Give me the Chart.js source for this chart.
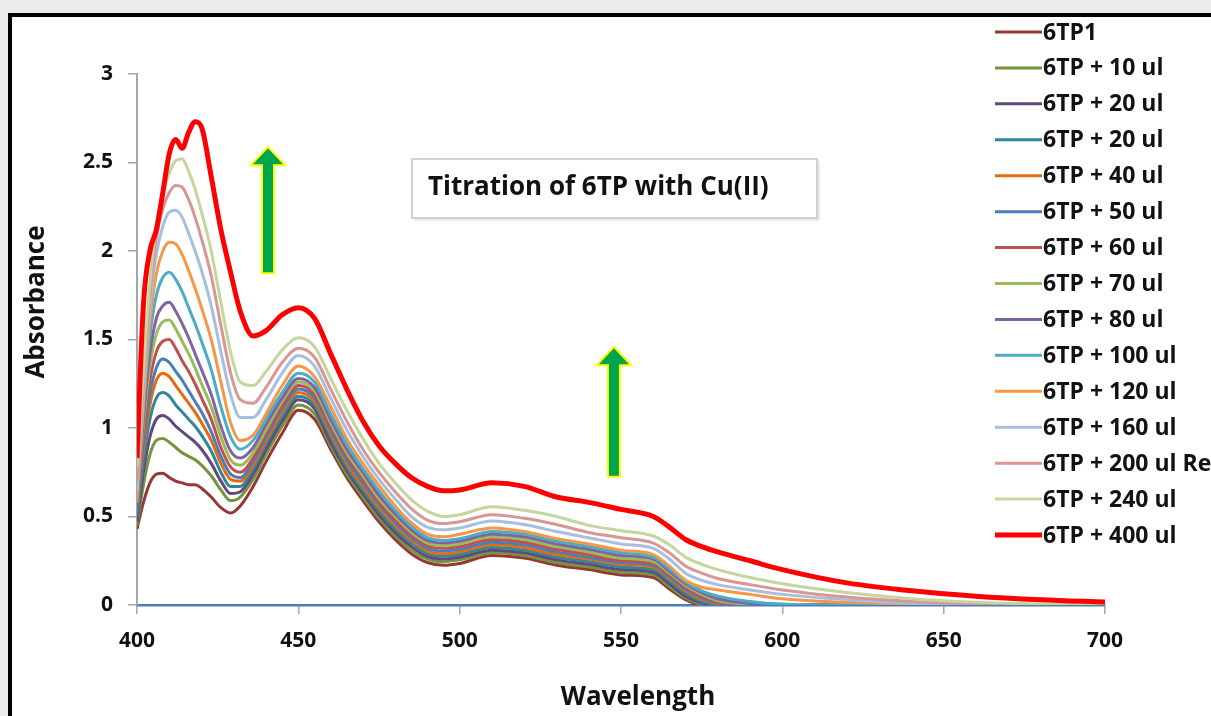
<!DOCTYPE html>
<html>
<head>
<meta charset="utf-8">
<script src="https://cdn.jsdelivr.net/npm/chart.js@4.4.1/dist/chart.umd.min.js"></script>
<style>
  html, body { margin: 0; padding: 0; background: #ececec; overflow: hidden; }
  #frame { position: absolute; left: 8px; top: 13px; width: 1260px; height: 780px; border: 4px solid #000; background: #fff; }
  #wrap { position: absolute; left: 0; top: 0; width: 1211px; height: 716px; }
</style>
</head>
<body>
<div id="frame"></div>
<div id="wrap"><canvas id="chart"></canvas></div>
<script>
// wavelength grid (nm) shared by every spectrum
const wavelengths = [400, 402, 404, 406, 408, 410, 412, 414, 416, 418,
  420, 423, 426, 429, 432, 436, 440, 445, 450, 455,
  460, 465, 470, 475, 480, 485, 490, 495, 500, 510,
  520, 530, 540, 550, 560, 565, 570, 575, 580, 590,
  600, 620, 640, 660, 680, 700];

const seriesLabels = ['6TP1', '6TP + 10 ul', '6TP + 20 ul', '6TP + 20 ul', '6TP + 40 ul',
  '6TP + 50 ul', '6TP + 60 ul', '6TP + 70 ul', '6TP + 80 ul', '6TP + 100 ul',
  '6TP + 120 ul', '6TP + 160 ul', '6TP + 200 ul Re', '6TP + 240 ul', '6TP + 400 ul'];

// absorbance values
const abs6TP1 = [0.43, 0.58, 0.69, 0.74, 0.745, 0.72, 0.70, 0.69, 0.68, 0.68,
  0.66, 0.61, 0.55, 0.52, 0.56, 0.67, 0.81, 0.97, 1.10, 1.05,
  0.88, 0.72, 0.59, 0.47, 0.37, 0.29, 0.24, 0.225, 0.235, 0.28,
  0.265, 0.225, 0.20, 0.17, 0.155, 0.09, 0.03, 0, 0, 0,
  0, 0, 0, 0, 0, 0];
const abs10 = [0.45, 0.68, 0.85, 0.93, 0.94, 0.92, 0.89, 0.86, 0.84, 0.82,
  0.79, 0.73, 0.65, 0.59, 0.61, 0.71, 0.85, 1.01, 1.13, 1.08,
  0.90, 0.74, 0.61, 0.49, 0.39, 0.31, 0.26, 0.245, 0.255, 0.295,
  0.28, 0.24, 0.215, 0.185, 0.17, 0.105, 0.04, 0.005, 0, 0,
  0, 0, 0, 0, 0, 0];
const abs20a = [0.47, 0.75, 0.95, 1.05, 1.07, 1.05, 1.01, 0.98, 0.95, 0.92,
  0.88, 0.80, 0.70, 0.63, 0.64, 0.74, 0.88, 1.04, 1.16, 1.11,
  0.92, 0.76, 0.63, 0.51, 0.41, 0.33, 0.275, 0.26, 0.27, 0.31,
  0.295, 0.255, 0.23, 0.20, 0.185, 0.12, 0.05, 0.012, 0, 0,
  0, 0, 0, 0, 0, 0];
const abs20b = [0.50, 0.82, 1.05, 1.17, 1.20, 1.18, 1.13, 1.09, 1.05, 1.01,
  0.96, 0.87, 0.75, 0.67, 0.67, 0.77, 0.91, 1.07, 1.18, 1.13,
  0.95, 0.78, 0.65, 0.53, 0.43, 0.35, 0.29, 0.275, 0.285, 0.325,
  0.31, 0.27, 0.245, 0.215, 0.20, 0.135, 0.065, 0.02, 0.004, 0,
  0, 0, 0, 0, 0, 0];
const abs40 = [0.55, 0.88, 1.13, 1.27, 1.31, 1.29, 1.24, 1.19, 1.14, 1.09,
  1.03, 0.93, 0.80, 0.71, 0.70, 0.79, 0.93, 1.09, 1.20, 1.15,
  0.97, 0.80, 0.67, 0.55, 0.45, 0.365, 0.305, 0.29, 0.30, 0.34,
  0.325, 0.285, 0.26, 0.23, 0.215, 0.15, 0.08, 0.03, 0.008, 0,
  0, 0, 0, 0, 0, 0];
const abs50 = [0.53, 0.92, 1.19, 1.34, 1.39, 1.37, 1.32, 1.27, 1.21, 1.15,
  1.09, 0.98, 0.84, 0.74, 0.72, 0.81, 0.95, 1.11, 1.22, 1.17,
  0.99, 0.82, 0.69, 0.57, 0.465, 0.38, 0.32, 0.305, 0.315, 0.355,
  0.34, 0.30, 0.27, 0.24, 0.225, 0.16, 0.09, 0.04, 0.012, 0,
  0, 0, 0, 0, 0, 0];
const abs60 = [0.56, 0.97, 1.27, 1.43, 1.49, 1.50, 1.45, 1.38, 1.32, 1.25,
  1.17, 1.05, 0.89, 0.78, 0.75, 0.83, 0.97, 1.13, 1.24, 1.19,
  1.01, 0.84, 0.71, 0.585, 0.48, 0.395, 0.335, 0.32, 0.33, 0.37,
  0.355, 0.315, 0.285, 0.25, 0.235, 0.17, 0.10, 0.05, 0.018, 0,
  0, 0, 0, 0, 0, 0];
const abs70 = [0.58, 1.02, 1.35, 1.53, 1.60, 1.61, 1.56, 1.49, 1.42, 1.34,
  1.25, 1.12, 0.95, 0.82, 0.79, 0.86, 0.99, 1.15, 1.26, 1.21,
  1.03, 0.86, 0.73, 0.60, 0.50, 0.41, 0.35, 0.335, 0.345, 0.385,
  0.37, 0.33, 0.30, 0.265, 0.245, 0.18, 0.11, 0.06, 0.025, 0.004,
  0, 0, 0, 0, 0, 0];
const abs80 = [0.60, 1.06, 1.42, 1.62, 1.69, 1.71, 1.66, 1.59, 1.51, 1.42,
  1.33, 1.19, 1.01, 0.87, 0.83, 0.89, 1.02, 1.17, 1.28, 1.23,
  1.05, 0.88, 0.75, 0.62, 0.515, 0.425, 0.365, 0.35, 0.36, 0.40,
  0.385, 0.345, 0.315, 0.28, 0.26, 0.19, 0.12, 0.07, 0.035, 0.008,
  0, 0, 0, 0, 0, 0];
const abs100 = [0.62, 1.12, 1.52, 1.75, 1.85, 1.88, 1.84, 1.77, 1.68, 1.59,
  1.49, 1.33, 1.12, 0.95, 0.88, 0.93, 1.05, 1.20, 1.31, 1.26,
  1.08, 0.91, 0.77, 0.645, 0.535, 0.445, 0.38, 0.365, 0.375, 0.415,
  0.40, 0.36, 0.33, 0.295, 0.27, 0.205, 0.13, 0.08, 0.05, 0.02,
  0.005, 0, 0, 0, 0, 0];
const abs120 = [0.60, 1.15, 1.60, 1.87, 2.00, 2.05, 2.04, 1.98, 1.89, 1.79,
  1.68, 1.50, 1.26, 1.03, 0.93, 0.96, 1.08, 1.24, 1.35, 1.29,
  1.12, 0.94, 0.80, 0.675, 0.56, 0.465, 0.40, 0.385, 0.40, 0.435,
  0.415, 0.375, 0.345, 0.31, 0.285, 0.22, 0.14, 0.10, 0.085, 0.06,
  0.035, 0.015, 0.005, 0, 0, 0];
const abs160 = [0.65, 1.20, 1.68, 1.98, 2.14, 2.22, 2.23, 2.19, 2.10, 2.00,
  1.89, 1.69, 1.43, 1.19, 1.06, 1.06, 1.16, 1.31, 1.41, 1.35,
  1.17, 0.99, 0.84, 0.71, 0.60, 0.50, 0.44, 0.425, 0.435, 0.475,
  0.455, 0.415, 0.38, 0.345, 0.32, 0.26, 0.18, 0.14, 0.115, 0.085,
  0.06, 0.03, 0.01, 0, 0, 0];
const abs200 = [0.70, 1.25, 1.75, 2.07, 2.24, 2.33, 2.37, 2.36, 2.29, 2.19,
  2.07, 1.86, 1.58, 1.31, 1.16, 1.14, 1.23, 1.37, 1.45, 1.40,
  1.22, 1.04, 0.88, 0.75, 0.64, 0.545, 0.48, 0.46, 0.47, 0.51,
  0.49, 0.455, 0.41, 0.38, 0.35, 0.295, 0.22, 0.18, 0.15, 0.115,
  0.085, 0.045, 0.02, 0.005, 0, 0];
const abs240 = [0.78, 1.32, 1.82, 2.15, 2.33, 2.44, 2.51, 2.52, 2.45, 2.35,
  2.22, 2.00, 1.71, 1.43, 1.26, 1.24, 1.32, 1.44, 1.51, 1.46,
  1.28, 1.10, 0.94, 0.80, 0.69, 0.595, 0.53, 0.50, 0.51, 0.555,
  0.535, 0.50, 0.45, 0.42, 0.39, 0.34, 0.27, 0.23, 0.20, 0.155,
  0.12, 0.07, 0.035, 0.015, 0.005, 0];
const abs400 = [0.83, 1.70, 2.00, 2.12, 2.33, 2.55, 2.63, 2.58, 2.67, 2.73,
  2.70, 2.42, 2.12, 1.88, 1.66, 1.52, 1.55, 1.64, 1.68, 1.62,
  1.42, 1.22, 1.04, 0.90, 0.80, 0.72, 0.67, 0.645, 0.65, 0.69,
  0.67, 0.61, 0.58, 0.54, 0.50, 0.44, 0.37, 0.33, 0.30, 0.25,
  0.20, 0.125, 0.08, 0.05, 0.03, 0.017];

const seriesValues = [abs6TP1, abs10, abs20a, abs20b, abs40, abs50, abs60, abs70,
  abs80, abs100, abs120, abs160, abs200, abs240, abs400];

const seriesColors = ['#953735', '#77933c', '#604a7b', '#31859c', '#e46c0a',
  '#4a7ebb', '#c0504d', '#9bbb59', '#8064a2', '#4bacc6',
  '#f79646', '#a7bfde', '#d99694', '#c3d69b', '#ff0000'];

// up arrows, in data units
const arrows = [
  { x: 440.6, from: 1.88, to: 2.58 },
  { x: 547.8, from: 0.73, to: 1.45 }
];

const FONT = '"Open Sans", "DejaVu Sans", sans-serif';

const datasets = seriesValues.map((vals, i) => ({
  label: seriesLabels[i],
  data: wavelengths.map((w, j) => ({ x: w, y: vals[j] })),
  borderColor: seriesColors[i],
  backgroundColor: seriesColors[i],
  borderWidth: i === 14 ? 5 : 3,
  pointRadius: 0,
  cubicInterpolationMode: 'monotone',
  order: seriesValues.length - 1 - i
}));

const overlay = {
  id: 'overlay',
  afterDraw(chart) {
    const ctx = chart.ctx;
    const xs = chart.scales.x;
    const ys = chart.scales.y;
    ctx.save();

    // text box
    ctx.fillStyle = 'rgba(0,0,0,0.08)';
    ctx.fillRect(414, 161, 406, 60);
    ctx.fillStyle = '#fff';
    ctx.fillRect(412, 159, 405, 59);
    ctx.strokeStyle = '#c4c4c4';
    ctx.lineWidth = 1.5;
    ctx.strokeRect(412, 159, 405, 59);
    ctx.fillStyle = '#111';
    ctx.font = 'bold 26px ' + FONT;
    ctx.textAlign = 'left';
    ctx.textBaseline = 'middle';
    ctx.fillText('Titration of 6TP with Cu(II)', 428, 188);

    // arrows
    arrows.forEach(a => {
      const cx = xs.getPixelForValue(a.x);
      const yb = ys.getPixelForValue(a.from);
      const yt = ys.getPixelForValue(a.to);
      const hw = 5, hh = 15, hl = 16;
      ctx.beginPath();
      ctx.moveTo(cx, yt);
      ctx.lineTo(cx + hh, yt + hl);
      ctx.lineTo(cx + hw, yt + hl);
      ctx.lineTo(cx + hw, yb);
      ctx.lineTo(cx - hw, yb);
      ctx.lineTo(cx - hw, yt + hl);
      ctx.lineTo(cx - hh, yt + hl);
      ctx.closePath();
      ctx.lineJoin = 'miter';
      ctx.lineWidth = 4;
      ctx.strokeStyle = '#ffff00';
      ctx.stroke();
      ctx.fillStyle = '#00a550';
      ctx.fill();
    });

    // axis titles
    ctx.fillStyle = '#111';
    ctx.font = 'bold 26px ' + FONT;
    ctx.textAlign = 'center';
    ctx.textBaseline = 'alphabetic';
    ctx.fillText('Wavelength', 638, 705);
    ctx.save();
    ctx.translate(44, 302);
    ctx.rotate(-Math.PI / 2);
    ctx.fillText('Absorbance', 0, 0);
    ctx.restore();

    // legend
    ctx.font = 'bold 23px ' + FONT;
    ctx.textAlign = 'left';
    ctx.textBaseline = 'middle';
    chart.data.datasets.forEach((ds, i) => {
      const y = 32 + i * 35.93;
      ctx.strokeStyle = ds.borderColor;
      ctx.lineWidth = ds.borderWidth;
      ctx.beginPath();
      ctx.moveTo(995, y);
      ctx.lineTo(1042, y);
      ctx.stroke();
      ctx.fillStyle = '#111';
      ctx.fillText(ds.label, 1043, y + 1);
    });
    ctx.restore();
  }
};

new Chart(document.getElementById('chart'), {
  type: 'line',
  data: { datasets },
  options: {
    responsive: true,
    maintainAspectRatio: false,
    animation: false,
    layout: { padding: { left: 0, right: 106, top: 74, bottom: 0 } },
    plugins: { legend: { display: false }, tooltip: { enabled: false } },
    scales: {
      x: {
        type: 'linear',
        min: 400,
        max: 700,
        afterFit: s => { s.height = 111; },
        ticks: { stepSize: 50, color: '#111', padding: 14, font: { family: FONT, size: 21, weight: 'bold' } },
        grid: { drawOnChartArea: false, tickLength: 9, color: '#a6a6a6', lineWidth: 1.5 },
        border: { display: true, color: '#4a7ebb', width: 2.5 }
      },
      y: {
        min: 0,
        max: 3,
        afterFit: s => { s.width = 137; },
        ticks: { stepSize: 0.5, color: '#111', padding: 15, callback: v => String(v), font: { family: FONT, size: 21, weight: 'bold' } },
        grid: { drawOnChartArea: false, tickLength: 9, color: '#a6a6a6', lineWidth: 1.5 },
        border: { display: true, color: '#a6a6a6', width: 2 }
      }
    }
  },
  plugins: [overlay]
});
</script>
</body>
</html>
